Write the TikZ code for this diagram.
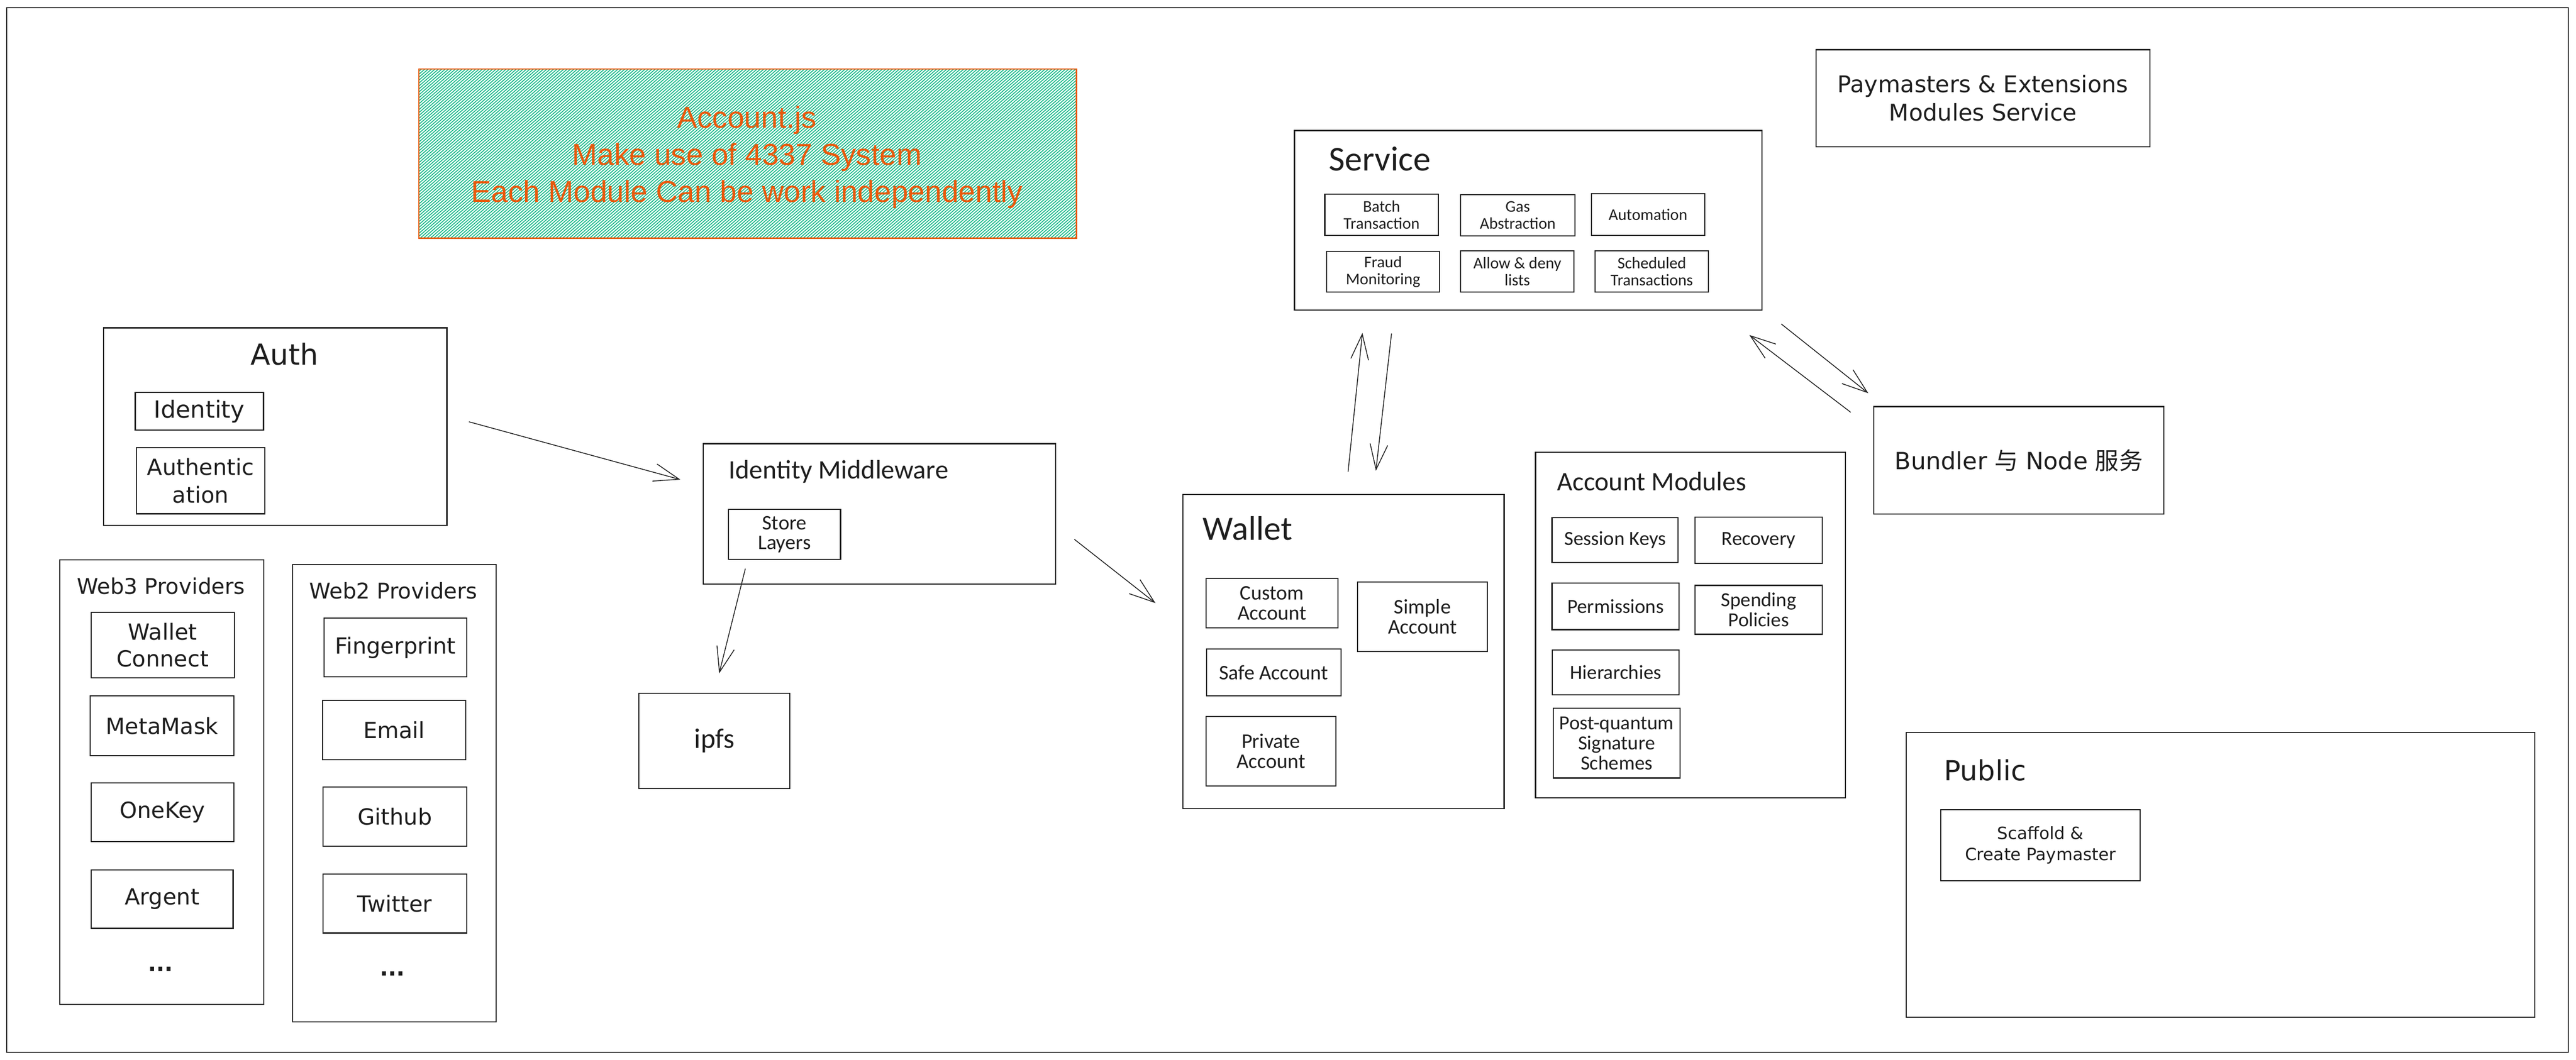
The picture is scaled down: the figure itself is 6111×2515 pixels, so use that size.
\documentclass[tikz,border=0pt]{standalone}
\usepackage{fontspec}
\setmainfont{DejaVu Sans}
\newfontfamily\vfont{DejaVu Sans}
\newfontfamily\nfont{Carlito}
\newfontfamily\hfont{Liberation Sans}
\newfontfamily\cjkfont{Noto Sans CJK SC}
\usetikzlibrary{arrows.meta,patterns.meta}
\definecolor{ink}{HTML}{1E1E1E}
\definecolor{orng}{HTML}{E8590C}
\definecolor{hatch}{HTML}{12B886}
\newcommand\fsz[2]{\fontsize{#1}{#2}\selectfont}
\tikzset{
  box/.style={draw=ink, line width=0.75pt, inner sep=0pt, align=center, text=ink},
  framebox/.style={draw=ink, line width=0.8pt, inner sep=0pt},
  accbox/.style={draw=orng, line width=0.9pt, inner sep=0pt, align=center, text=orng,
    pattern={Lines[angle=41,distance=1.5pt,line width=0.6pt]}, pattern color=hatch,
    font=\hfont\fsz{20.4}{25}},
  vtitle/.style={text=ink, inner sep=0pt, anchor=base},
  ntitle/.style={text=ink, inner sep=0pt, anchor=base west},
  vitem/.style={box, font=\vfont\fsz{15}{18}},
  svitem/.style={box, font=\nfont\fsz{11}{11.5}},
  wlitem/.style={box, font=\nfont\fsz{14}{13.5}},
  amitem/.style={box, font=\nfont\fsz{13.5}{13.5}},
  dots/.style={text=ink, inner sep=0pt, font=\vfont\bfseries\fsz{15}{18}},
  arr/.style={draw=ink, line width=0.55pt, line cap=round, -{Straight Barb[length=6mm,width=4.2mm]}}
}
\begin{document}
\begin{tikzpicture}[x=0.01cm,y=-0.01cm]
\useasboundingbox (0,0) rectangle (6111,2515);
% outer frame
\node[framebox, minimum width=60.73cm, minimum height=24.77cm] (frame) at (3054.5,1257.5) {};

% Account.js banner
\node[accbox, minimum width=15.59cm, minimum height=4.01cm] (acct) at (1773.5,364.5) {};
\node[text=orng, inner sep=0pt, align=center, font=\hfont\fsz{20.4}{25}] (acctT) at (1772,373) {Account.js\\Make use of 4337 System\\Each Module Can be work independently};

% Paymasters
\node[box, minimum width=7.92cm, minimum height=2.30cm, font=\vfont\fsz{15.5}{19}] (pay) at (4704,233) {Paymasters \& Extensions\\Modules Service};

% Service
\node[box, minimum width=11.09cm, minimum height=4.26cm] (svc) at (3625.5,523) {};
\node[ntitle, font=\nfont\fsz{23.5}{28}] (svcT) at (3152,405) {Service};
\node[svitem, minimum width=2.69cm, minimum height=0.98cm] (batch) at (3277.5,510) {Batch\\Transaction};
\node[svitem, minimum width=2.71cm, minimum height=0.98cm] (gas) at (3600.5,511) {Gas\\Abstraction};
\node[svitem, minimum width=2.69cm, minimum height=0.98cm] (auto) at (3909.5,509) {Automation};
\node[svitem, minimum width=2.68cm, minimum height=0.97cm] (fraud) at (3281,644.5) {Fraud\\Monitoring};
\node[svitem, minimum width=2.69cm, minimum height=0.98cm] (allow) at (3599.5,644) {Allow \& deny\\lists};
\node[svitem, minimum width=2.69cm, minimum height=0.98cm] (sched) at (3918.5,644) {Scheduled\\Transactions};

% Bundler
\node[box, minimum width=6.88cm, minimum height=2.55cm, font=\vfont\fsz{16}{19}] (bund) at (4789,1092.5) {Bundler {\cjkfont 与} Node {\cjkfont 服务}};

% Auth
\node[box, minimum width=8.14cm, minimum height=4.69cm] (auth) at (653,1012.5) {};
\node[vtitle, font=\vfont\fsz{19.5}{23}] (authT) at (675,866) {Auth};
\node[box, minimum width=3.04cm, minimum height=0.90cm, font=\vfont\fsz{16}{19}] (ident) at (473,976) {Identity};
\node[box, minimum width=3.04cm, minimum height=1.57cm, font=\vfont\fsz{15}{18.7}] (authn) at (476,1140.5) {Authentic\\ation};

% Web3 providers
\node[box, minimum width=4.84cm, minimum height=10.54cm] (web3) at (384,1856) {};
\node[vtitle, font=\vfont\fsz{14.6}{17}] (web3T) at (382,1410) {Web3 Providers};
\node[vitem, minimum width=3.40cm, minimum height=1.55cm] (wc) at (386,1530.5) {Wallet\\Connect};
\node[vitem, minimum width=3.41cm, minimum height=1.42cm] (mm) at (384.5,1722) {MetaMask};
\node[vitem, minimum width=3.39cm, minimum height=1.39cm] (onekey) at (385.5,1927.5) {OneKey};
\node[vitem, minimum width=3.37cm, minimum height=1.39cm] (argent) at (384.5,2133.5) {Argent};
\node[dots] (w3dots) at (381,2300) {...};

% Web2 providers
\node[box, minimum width=4.83cm, minimum height=10.85cm] (web2) at (935.5,1882.5) {};
\node[vtitle, font=\vfont\fsz{14.6}{17}] (web2T) at (933,1421) {Web2 Providers};
\node[vitem, minimum width=3.38cm, minimum height=1.39cm] (finger) at (938,1536.5) {Fingerprint};
\node[vitem, minimum width=3.40cm, minimum height=1.41cm] (email) at (935,1732.5) {Email};
\node[vitem, minimum width=3.41cm, minimum height=1.40cm] (github) at (936.5,1938) {Github};
\node[vitem, minimum width=3.41cm, minimum height=1.40cm] (twitter) at (936.5,2144) {Twitter};
\node[dots] (w2dots) at (931,2310) {...};

% Identity Middleware
\node[box, minimum width=8.35cm, minimum height=3.33cm] (im) at (2086.5,1219.5) {};
\node[ntitle, font=\nfont\fsz{18}{21}] (imT) at (1728,1136) {Identity Middleware};
\node[box, minimum width=2.66cm, minimum height=1.18cm, font=\nfont\fsz{14}{13.3}] (store) at (1861,1268) {Store\\Layers};

% ipfs
\node[box, minimum width=3.58cm, minimum height=2.26cm, font=\nfont\fsz{19}{22}] (ipfs) at (1695,1758) {ipfs};

% Wallet
\node[box, minimum width=7.62cm, minimum height=7.45cm] (wallet) at (3187,1546.5) {};
\node[ntitle, font=\nfont\fsz{23}{27}] (walletT) at (2853,1281) {Wallet};
\node[wlitem, minimum width=3.13cm, minimum height=1.17cm] (custom) at (3017.5,1431.5) {Custom\\Account};
\node[wlitem, minimum width=3.07cm, minimum height=1.65cm] (simple) at (3374.5,1463.5) {Simple\\Account};
\node[wlitem, minimum width=3.19cm, minimum height=1.11cm] (safe) at (3021.5,1595.5) {Safe Account};
\node[wlitem, minimum width=3.08cm, minimum height=1.65cm] (private) at (3015,1782.5) {Private\\Account};

% Account Modules
\node[box, minimum width=7.35cm, minimum height=8.20cm] (am) at (4010.5,1483) {};
\node[ntitle, font=\nfont\fsz{18}{21}] (amT) at (3693,1164) {Account Modules};
\node[amitem, minimum width=2.99cm, minimum height=1.07cm] (session) at (3831.5,1281.5) {Session Keys};
\node[amitem, minimum width=3.02cm, minimum height=1.10cm] (recovery) at (4172,1282) {Recovery};
\node[amitem, minimum width=3.01cm, minimum height=1.10cm] (perm) at (3832.5,1439) {Permissions};
\node[amitem, minimum width=3.02cm, minimum height=1.16cm] (spend) at (4172,1447) {Spending\\Policies};
\node[amitem, minimum width=3.00cm, minimum height=1.07cm] (hier) at (3833,1595.5) {Hierarchies};
\node[amitem, minimum width=3.00cm, minimum height=1.65cm] (pq) at (3835,1763.5) {Post-quantum\\Signature\\Schemes};

% Public
\node[box, minimum width=14.90cm, minimum height=6.76cm] (pub) at (5268,2076) {};
\node[ntitle, font=\vfont\fsz{18.7}{22}] (pubT) at (4611,1852) {Public};
\node[box, minimum width=4.73cm, minimum height=1.69cm, font=\vfont\fsz{11.4}{14.2}] (scaf) at (4840.5,2005.5) {Scaffold \&\\Create Paymaster};

% connector end points
\coordinate (a1s) at (1113,1001);
\coordinate (a1e) at (1614,1138);
\coordinate (a2s) at (1768,1350);
\coordinate (a2e) at (1706,1598);
\coordinate (a3s) at (2549,1280);
\coordinate (a3e) at (2741,1431);
\coordinate (a4s) at (3198,1119);
\coordinate (a4e) at (3232,790);
\coordinate (a5s) at (3301,792);
\coordinate (a5e) at (3264,1117);
\coordinate (a6s) at (4390,978);
\coordinate (a6e) at (4150,795);
\coordinate (a7s) at (4226,769);
\coordinate (a7e) at (4432,933);

\draw[arr] (a1s) -- (a1e);
\draw[arr] (a2s) -- (a2e);
\draw[arr] (a3s) -- (a3e);
\draw[arr] (a4s) -- (a4e);
\draw[arr] (a5s) -- (a5e);
\draw[arr] (a6s) -- (a6e);
\draw[arr] (a7s) -- (a7e);
\end{tikzpicture}
\end{document}
